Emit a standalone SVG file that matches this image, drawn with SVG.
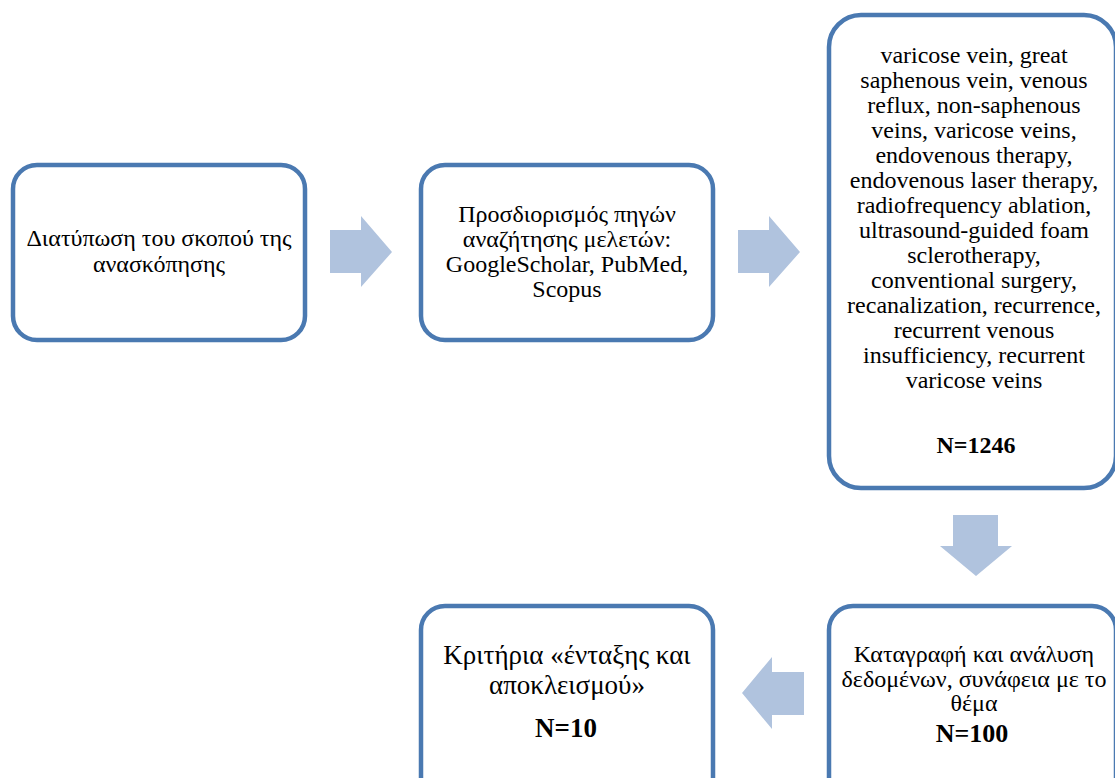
<svg xmlns="http://www.w3.org/2000/svg" width="1115" height="778" viewBox="0 0 1115 778">
<style>
.box{fill:#ffffff;stroke:#4a79b1;stroke-width:4.5}
.arr{fill:#b0c3de}
.t{font-family:"Liberation Serif","Times New Roman",serif;font-size:24px;fill:#000;text-anchor:middle}
.b{font-weight:bold}
.big{font-size:27px}
</style>
<rect width="1115" height="778" fill="#ffffff"/>
<g id="connectors">
<polygon class="arr" points="330,230 361,230 361,216 392,252 361,287 361,273 330,273"/>
<polygon class="arr" points="738,230 769,230 769,216 800,252 769,287 769,273 738,273"/>
<polygon class="arr" points="953,515 998,515 998,546 1012,546 976,576 940,546 953,546"/>
<polygon class="arr" points="804,672 772,672 772,657 742,693 772,729 772,715 804,715"/>
</g>
<g id="node1">
<rect class="box" x="13" y="165" width="292" height="175" rx="24"/>
<text class="t" x="159" y="246">Διατύπωση του σκοπού της</text>
<text class="t" x="159" y="272">ανασκόπησης</text>
</g>
<g id="node2">
<rect class="box" x="421" y="165" width="292" height="175" rx="24"/>
<text class="t" x="567" y="222">Προσδιορισμός πηγών</text>
<text class="t" x="567" y="247">αναζήτησης μελετών:</text>
<text class="t" x="567" y="272">GoogleScholar, PubMed,</text>
<text class="t" x="567" y="297">Scopus</text>
</g>
<g id="node3">
<rect class="box" x="829" y="15" width="287" height="473" rx="32"/>
<text class="t" x="974" y="63">varicose vein, great</text>
<text class="t" x="974" y="88">saphenous vein, venous</text>
<text class="t" x="974" y="113">reflux, non-saphenous</text>
<text class="t" x="974" y="138">veins, varicose veins,</text>
<text class="t" x="974" y="163">endovenous therapy,</text>
<text class="t" x="974" y="188">endovenous laser therapy,</text>
<text class="t" x="974" y="213">radiofrequency ablation,</text>
<text class="t" x="974" y="238">ultrasound-guided foam</text>
<text class="t" x="974" y="263">sclerotherapy,</text>
<text class="t" x="974" y="288">conventional surgery,</text>
<text class="t" x="974" y="313">recanalization, recurrence,</text>
<text class="t" x="974" y="338">recurrent venous</text>
<text class="t" x="974" y="363">insufficiency, recurrent</text>
<text class="t" x="974" y="388">varicose veins</text>
<text class="t b" x="976" y="453">N=1246</text>
</g>
<g id="node5">
<rect class="box" x="829" y="606" width="287" height="200" rx="24"/>
<text class="t" x="974" y="662">Καταγραφή και ανάλυση</text>
<text class="t" x="974" y="687">δεδομένων, συνάφεια με το</text>
<text class="t" x="974" y="711">θέμα</text>
<text class="t b" x="972" y="742" style="font-size:26px">N=100</text>
</g>
<g id="node4">
<rect class="box" x="421" y="606" width="292" height="200" rx="24"/>
<text class="t big" x="567" y="664">Κριτήρια «ένταξης και</text>
<text class="t big" x="567" y="694">αποκλεισμού»</text>
<text class="t b big" x="566" y="737">N=10</text>
</g>
</svg>
